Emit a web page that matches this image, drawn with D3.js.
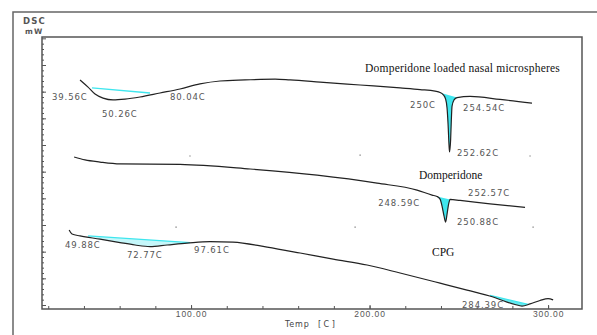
<!DOCTYPE html>
<html>
<head>
<meta charset="utf-8">
<script src="https://cdn.jsdelivr.net/npm/d3@7"></script>
<style>
  body { margin: 0; background: #fff; }
</style>
</head>
<body>
<div id="chart"></div>
<script>
// DSC thermograms: temperature (C) and heat flow (mW, arbitrary offset)
const nasalTemp = [37.8, 42.3, 46.2, 50.7, 56.3, 63.0, 71.4, 82.6, 93.8, 105.0, 116.2, 130.3, 147.1, 155.5, 172.3, 194.7, 217.1, 228.3, 236.7, 239.5, 241.2, 242.6, 243.4, 244.0, 244.5, 244.8, 245.4, 245.8, 246.2, 247.3, 249.0, 256.3, 273.1, 291.0];
const nasalFlow = [8.44, 8.17, 7.91, 7.76, 7.69, 7.72, 7.80, 7.95, 8.10, 8.29, 8.40, 8.44, 8.47, 8.44, 8.36, 8.25, 8.14, 8.08, 8.02, 7.97, 7.89, 7.72, 7.39, 6.75, 6.00, 5.74, 6.19, 6.94, 7.46, 7.69, 7.78, 7.82, 7.71, 7.57];

const dompTemp = [34.5, 40.6, 49.0, 60.2, 93.8, 133.1, 170.6, 204.2, 226.6, 235.0, 237.8, 239.5, 240.6, 241.7, 242.6, 243.4, 244.3, 245.1, 250.7, 267.5, 287.1];
const dompFlow = [5.55, 5.44, 5.36, 5.29, 5.27, 5.10, 4.87, 4.57, 4.31, 4.12, 4.07, 3.97, 3.71, 3.34, 3.11, 3.41, 3.79, 3.96, 3.92, 3.79, 3.66];

const cpgTemp = [31.7, 33.3, 37.8, 49.0, 60.2, 68.6, 77.0, 86.6, 97.8, 110.6, 123.5, 142.6, 161.1, 179.6, 198.6, 217.1, 239.5, 254.6, 269.2, 277.0, 281.5, 285.4, 289.9, 295.5, 300.0, 302.8];
const cpgFlow = [2.81, 2.66, 2.59, 2.47, 2.34, 2.25, 2.19, 2.25, 2.32, 2.38, 2.36, 2.17, 1.95, 1.72, 1.50, 1.20, 0.82, 0.56, 0.30, 0.11, 0.02, -0.04, 0.04, 0.17, 0.24, 0.19];

// integration baselines (start / end point) drawn by the instrument software
const nasalBroadBase = [[44.5, 8.14], [77.0, 7.95]];
const nasalPeakBase = [[236.7, 8.02], [249.0, 7.78]];
const dompPeakBase = [[237.8, 4.07], [245.1, 3.96]];
const cpgBroadBase = [[42.3, 2.59], [99.4, 2.34]];
const cpgPeakBase = [[267.5, 0.36], [288.8, 0.02]];

// peak labels: text, temperature, flow
const peakLabels = ["39.56C", "50.26C", "80.04C", "250C", "254.54C", "252.62C", "248.59C", "252.57C", "250.88C", "49.88C", "72.77C", "97.61C", "284.39C"];
const peakLabelTemp = [22.1, 50.1, 88.2, 222.7, 252.4, 249.0, 204.8, 255.2, 249.0, 29.4, 64.1, 101.7, 251.8];
const peakLabelFlow = [7.69, 7.05, 7.69, 7.39, 7.27, 5.59, 3.71, 4.09, 3.00, 2.14, 1.76, 1.95, -0.11];

const curveNames = ["Domperidone loaded nasal microspheres", "Domperidone", "CPG"];
const curveNameTemp = [197.5, 227.7, 235.0];
const curveNameFlow = [8.74, 4.72, 1.84];

// stray grid dots of the instrument printout
const gridDotTemp = [99.4, 194.7, 289.9, 91.6, 191.9, 291.6];
const gridDotFlow = [5.59, 5.62, 5.59, 2.92, 2.92, 2.92];

const xTicks = d3.range(20, 320, 20);
const xLabelTicks = [100, 200, 300];

const width = 597;
const height = 335;
const plot = { left: 42, top: 37, right: 582, bottom: 309 };

const svg = d3
  .select("#chart")
  .append("svg")
  .attr("width", width)
  .attr("height", height)
  .style("font-family", "DejaVu Sans, sans-serif");

const x = d3.scaleLinear().domain([16.5, 319]).range([plot.left, plot.right]);
const y = d3.scaleLinear().domain([-0.15, 10.05]).range([plot.bottom, plot.top]);

// outer printout frame
svg
  .append("path")
  .attr("d", `M13,${height}V12H${width}`)
  .attr("fill", "none")
  .attr("stroke", "#666")
  .attr("stroke-width", 1.5);

// axis titles
svg.append("text").attr("x", 23).attr("y", 24).text("DSC")
  .attr("font-size", 8.5).attr("font-weight", "bold").attr("letter-spacing", 1.2).attr("fill", "#555");
svg.append("text").attr("x", 25).attr("y", 34).text("mW")
  .attr("font-size", 7.5).attr("font-weight", "bold").attr("letter-spacing", 1.2).attr("fill", "#555");
svg.append("text").attr("x", 285).attr("y", 327).text("Temp")
  .attr("font-size", 8).attr("letter-spacing", 0.8).attr("fill", "#444");
svg.append("text").attr("x", 318).attr("y", 327).text("[C]")
  .attr("font-size", 8).attr("letter-spacing", 2.5).attr("fill", "#444");

// axes with inward ticks
const xMinor = svg
  .append("g")
  .attr("transform", `translate(0,${plot.bottom})`)
  .call(d3.axisBottom(x).tickValues(xTicks).tickSize(-3).tickFormat(""));
const xMajor = svg
  .append("g")
  .attr("transform", `translate(0,${plot.bottom})`)
  .call(d3.axisBottom(x).tickValues(xLabelTicks).tickSize(-4).tickPadding(2).tickFormat(d3.format(".2f")));
xMajor.selectAll("text").attr("font-size", 8.5).attr("letter-spacing", 0.9).attr("fill", "#555");

const yMinor = svg
  .append("g")
  .attr("transform", `translate(${plot.left},0)`)
  .call(d3.axisLeft(y).tickValues(d3.range(0, 50).map((i) => i * 0.2)).tickSize(-2).tickFormat(""));
const yMajor = svg
  .append("g")
  .attr("transform", `translate(${plot.left},0)`)
  .call(d3.axisLeft(y).tickValues(d3.range(0, 11)).tickSize(-4).tickFormat(""));

[xMinor, xMajor, yMinor, yMajor].forEach((g) => {
  g.select(".domain").remove();
  g.selectAll("line").attr("stroke", "#555");
});

// inner plot box
svg
  .append("rect")
  .attr("x", plot.left)
  .attr("y", plot.top)
  .attr("width", plot.right - plot.left)
  .attr("height", plot.bottom - plot.top)
  .attr("fill", "none")
  .attr("stroke", "#555")
  .attr("stroke-width", 1.5);

// grid dots
svg
  .append("g")
  .selectAll("circle")
  .data(gridDotTemp)
  .join("circle")
  .attr("cx", (d) => x(d))
  .attr("cy", (d, i) => y(gridDotFlow[i]))
  .attr("r", 0.8)
  .attr("fill", "#999");

const line = d3
  .line()
  .x((d) => x(d[0]))
  .y((d) => y(d[1]))
  .curve(d3.curveMonotoneX);

const series = [
  d3.zip(nasalTemp, nasalFlow),
  d3.zip(dompTemp, dompFlow),
  d3.zip(cpgTemp, cpgFlow),
];

// cyan integration areas: curve between the baseline ends, closed along the baseline
const regions = [
  { pts: series[0], base: nasalPeakBase, opacity: 1 },
  { pts: series[1], base: dompPeakBase, opacity: 1 },
  { pts: series[2], base: cpgBroadBase, opacity: 0.3 },
  { pts: series[2], base: cpgPeakBase, opacity: 0.8 },
];

regions.forEach((r) => {
  const inside = r.pts.filter((p) => p[0] > r.base[0][0] && p[0] < r.base[1][0]);
  const poly = [r.base[0], ...inside, r.base[1]];
  svg
    .append("path")
    .attr("d", d3.line().x((d) => x(d[0])).y((d) => y(d[1]))(poly) + "Z")
    .attr("fill", "#3fe6ee")
    .attr("fill-opacity", r.opacity)
    .attr("stroke", "none");
});

// baselines
[nasalBroadBase, cpgBroadBase, cpgPeakBase].forEach((b) => {
  svg
    .append("path")
    .attr("d", d3.line().x((d) => x(d[0])).y((d) => y(d[1]))(b))
    .attr("fill", "none")
    .attr("stroke", "#3fe6ee")
    .attr("stroke-width", 1.3);
});

// thermogram curves
svg
  .append("g")
  .selectAll("path")
  .data(series)
  .join("path")
  .attr("d", line)
  .attr("fill", "none")
  .attr("stroke", "#222")
  .attr("stroke-width", 1.2);

// peak labels
svg
  .append("g")
  .selectAll("text")
  .data(peakLabels)
  .join("text")
  .attr("x", (d, i) => x(peakLabelTemp[i]))
  .attr("y", (d, i) => y(peakLabelFlow[i]))
  .text((d) => d)
  .attr("font-size", 8.5)
  .attr("letter-spacing", 0.9)
  .attr("fill", "#555");

// curve names
svg
  .append("g")
  .selectAll("text")
  .data(curveNames)
  .join("text")
  .attr("x", (d, i) => x(curveNameTemp[i]))
  .attr("y", (d, i) => y(curveNameFlow[i]))
  .text((d) => d)
  .attr("font-family", "Liberation Serif, serif")
  .attr("font-size", 11.5)
  .attr("letter-spacing", (d, i) => (i === 0 ? 0.2 : 0))
  .attr("fill", "#111");
</script>
</body>
</html>
